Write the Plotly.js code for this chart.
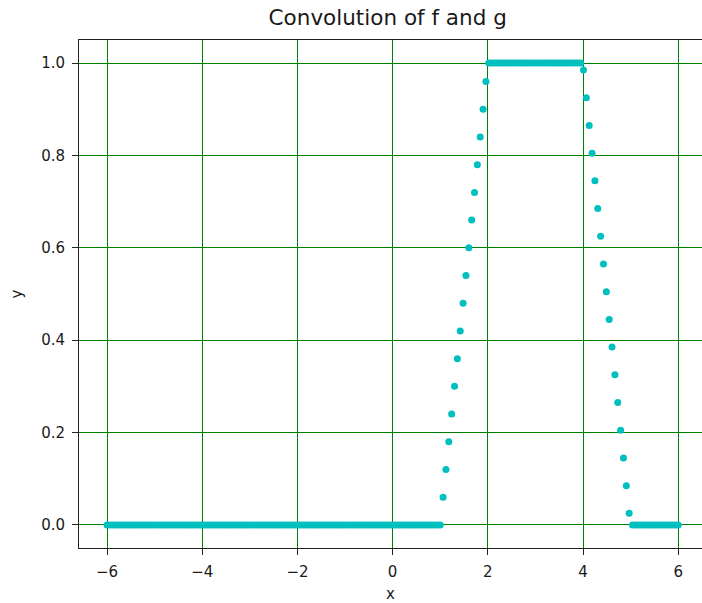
<!DOCTYPE html>
<html>
<head>
<meta charset="utf-8">
<script src="https://cdn.plot.ly/plotly-3.0.1.min.js"></script>
<style>
  html, body { margin: 0; padding: 0; background: #fff; }
  #chart { width: 702px; height: 603px; }
</style>
</head>
<body>
<div id="chart"></div>
<script>
// Sample positions (≈0.0603 spacing, 200 points)
const xValues = [
  -6.00, -5.94, -5.88, -5.82, -5.76, -5.70, -5.64, -5.58, -5.52, -5.46,
  -5.40, -5.34, -5.28, -5.22, -5.16, -5.10, -5.04, -4.97, -4.91, -4.85,
  -4.79, -4.73, -4.67, -4.61, -4.55, -4.49, -4.43, -4.37, -4.31, -4.25,
  -4.19, -4.13, -4.07, -4.01, -3.95, -3.89, -3.83, -3.77, -3.71, -3.65,
  -3.59, -3.53, -3.47, -3.41, -3.35, -3.29, -3.23, -3.17, -3.11, -3.05,
  -2.98, -2.92, -2.86, -2.80, -2.74, -2.68, -2.62, -2.56, -2.50, -2.44,
  -2.38, -2.32, -2.26, -2.20, -2.14, -2.08, -2.02, -1.96, -1.90, -1.84,
  -1.78, -1.72, -1.66, -1.60, -1.54, -1.48, -1.42, -1.36, -1.30, -1.24,
  -1.18, -1.12, -1.06, -1.00, -0.93, -0.87, -0.81, -0.75, -0.69, -0.63,
  -0.57, -0.51, -0.45, -0.39, -0.33, -0.27, -0.21, -0.15, -0.09, -0.03,
   0.03,  0.09,  0.15,  0.21,  0.27,  0.33,  0.39,  0.45,  0.51,  0.57,
   0.63,  0.69,  0.75,  0.81,  0.87,  0.93,  1.00,  1.06,  1.12,  1.18,
   1.24,  1.30,  1.36,  1.42,  1.48,  1.54,  1.60,  1.66,  1.72,  1.78,
   1.84,  1.90,  1.96,  2.02,  2.08,  2.14,  2.20,  2.26,  2.32,  2.38,
   2.44,  2.50,  2.56,  2.62,  2.68,  2.74,  2.80,  2.86,  2.92,  2.98,
   3.05,  3.11,  3.17,  3.23,  3.29,  3.35,  3.41,  3.47,  3.53,  3.59,
   3.65,  3.71,  3.77,  3.83,  3.89,  3.95,  4.01,  4.07,  4.13,  4.19,
   4.25,  4.31,  4.37,  4.43,  4.49,  4.55,  4.61,  4.67,  4.73,  4.79,
   4.85,  4.91,  4.97,  5.04,  5.10,  5.16,  5.22,  5.28,  5.34,  5.40,
   5.46,  5.52,  5.58,  5.64,  5.70,  5.76,  5.82,  5.88,  5.94,  6.00
];

const yValues = [
  0, 0, 0, 0, 0, 0, 0, 0, 0, 0,
  0, 0, 0, 0, 0, 0, 0, 0, 0, 0,
  0, 0, 0, 0, 0, 0, 0, 0, 0, 0,
  0, 0, 0, 0, 0, 0, 0, 0, 0, 0,
  0, 0, 0, 0, 0, 0, 0, 0, 0, 0,
  0, 0, 0, 0, 0, 0, 0, 0, 0, 0,
  0, 0, 0, 0, 0, 0, 0, 0, 0, 0,
  0, 0, 0, 0, 0, 0, 0, 0, 0, 0,
  0, 0, 0, 0, 0, 0, 0, 0, 0, 0,
  0, 0, 0, 0, 0, 0, 0, 0, 0, 0,
  0, 0, 0, 0, 0, 0, 0, 0, 0, 0,
  0, 0, 0, 0, 0, 0, 0, 0.06, 0.12, 0.18,
  0.24, 0.30, 0.36, 0.42, 0.48, 0.54, 0.60, 0.66, 0.72, 0.78,
  0.84, 0.90, 0.96, 1, 1, 1, 1, 1, 1, 1,
  1, 1, 1, 1, 1, 1, 1, 1, 1, 1,
  1, 1, 1, 1, 1, 1, 1, 1, 1, 1,
  1, 1, 1, 1, 1, 1, 0.985, 0.925, 0.865, 0.805,
  0.745, 0.685, 0.625, 0.565, 0.505, 0.445, 0.385, 0.325, 0.265, 0.205,
  0.145, 0.085, 0.025, 0, 0, 0, 0, 0, 0, 0,
  0, 0, 0, 0, 0, 0, 0, 0, 0, 0
];

const xTicks = [-6, -4, -2, 0, 2, 4, 6];
const yTicks = [0.0, 0.2, 0.4, 0.6, 0.8, 1.0];
const yTickText = ['0.0', '0.2', '0.4', '0.6', '0.8', '1.0'];

const FONT = 'DejaVu Sans, sans-serif';
const TXT = '#1a1a1a';

const trace = {
  type: 'scatter',
  mode: 'markers',
  x: xValues,
  y: yValues,
  marker: { color: '#00bfbf', size: 7, line: { width: 0 } },
  hoverinfo: 'skip',
  showlegend: false
};

const layout = {
  width: 702,
  height: 603,
  margin: { l: 79, r: 0, t: 40, b: 55, pad: 0 },
  paper_bgcolor: '#ffffff',
  plot_bgcolor: '#ffffff',
  font: { family: FONT, color: TXT, size: 15 },
  title: {
    text: 'Convolution of f and g',
    font: { family: FONT, size: 21.5, color: TXT },
    x: 0.4955, xanchor: 'center', xref: 'paper',
    y: 1, yref: 'container', yanchor: 'top', pad: { t: 10 }
  },
  xaxis: {
    range: [-6.59, 6.50],
    tickvals: xTicks,
    ticks: 'outside', ticklen: 6, tickwidth: 1, tickcolor: '#222',
    ticklabelstandoff: 4,
    showline: true, linecolor: '#222', linewidth: 1, mirror: true,
    showgrid: true, gridcolor: '#008000', gridwidth: 1,
    zeroline: false,
    tickfont: { family: FONT, size: 15, color: TXT },
    title: { text: 'x', font: { family: FONT, size: 15, color: TXT }, standoff: 12 }
  },
  yaxis: {
    range: [-0.05, 1.05],
    tickvals: yTicks,
    ticktext: yTickText,
    ticks: 'outside', ticklen: 6, tickwidth: 1, tickcolor: '#222',
    ticklabelstandoff: 4,
    showline: true, linecolor: '#222', linewidth: 1, mirror: false,
    showgrid: true, gridcolor: '#008000', gridwidth: 1,
    zeroline: false,
    tickfont: { family: FONT, size: 15, color: TXT },
    title: { text: 'y', font: { family: FONT, size: 15, color: TXT }, standoff: 14 }
  }
};

Plotly.newPlot('chart', [trace], layout, { staticPlot: true, displayModeBar: false });
</script>
</body>
</html>
